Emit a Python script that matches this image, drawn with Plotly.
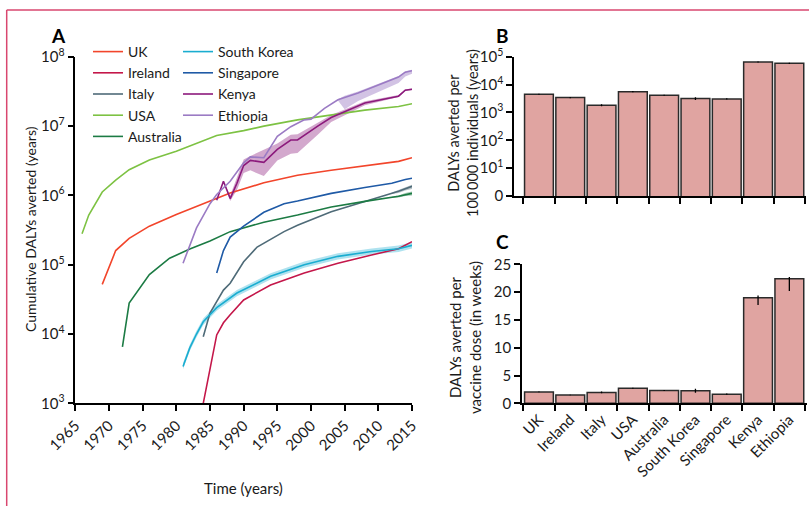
import plotly.graph_objects as go

FONT = "Lato"

# ---------------- Panel A data (cumulative DALYs averted) ----------------
uk_years = [1969, 1971, 1973, 1976, 1980, 1984, 1988, 1993, 1998, 2003, 2008, 2013, 2015]
uk_vals = [5.2e4, 1.6e5, 2.4e5, 3.6e5, 5.3e5, 7.6e5, 1.08e6, 1.52e6, 1.95e6, 2.3e6, 2.7e6, 3.1e6, 3.5e6]

ireland_years = [1984, 1986, 1987, 1988, 1990, 1991, 1994, 1999, 2004, 2009, 2013, 2015]
ireland_vals = [1.0e3, 9.7e3, 1.45e4, 1.9e4, 3.1e4, 3.5e4, 5.1e4, 7.6e4, 1.05e5, 1.38e5, 1.7e5, 2.15e5]

italy_years = [1984, 1985, 1987, 1988, 1990, 1992, 1996, 1998, 2003, 2008, 2013, 2015]
italy_vals = [9.1e3, 2.0e4, 4.3e4, 5.4e4, 1.1e5, 1.8e5, 3.0e5, 3.7e5, 5.8e5, 8.1e5, 1.15e6, 1.35e6]
italy_band_years = [2012, 2013, 2014, 2015]
italy_band_low = [1.05e6, 1.08e6, 1.18e6, 1.24e6]
italy_band_high = [1.1e6, 1.2e6, 1.33e6, 1.42e6]

usa_years = [1966, 1967, 1969, 1971, 1973, 1976, 1980, 1983, 1986, 1990, 1993, 1998, 2003, 2008, 2013, 2015]
usa_vals = [2.8e5, 5.2e5, 1.12e6, 1.66e6, 2.35e6, 3.25e6, 4.35e6, 5.7e6, 7.3e6, 8.6e6, 1.0e7, 1.23e7, 1.45e7, 1.7e7, 1.92e7, 2.1e7]

australia_years = [1972, 1973, 1976, 1979, 1982, 1985, 1988, 1993, 1998, 2003, 2008, 2013, 2015]
australia_vals = [6.5e3, 2.8e4, 7.2e4, 1.24e5, 1.68e5, 2.2e5, 3.0e5, 4.1e5, 5.2e5, 6.8e5, 8.2e5, 9.7e5, 1.07e6]
australia_band_years = [2012, 2013, 2014, 2015]
australia_band_low = [9.2e5, 9.3e5, 9.8e5, 1.0e6]
australia_band_high = [9.6e5, 1.0e6, 1.08e6, 1.14e6]

skorea_years = [1981, 1982, 1983, 1984, 1986, 1989, 1994, 1999, 2004, 2009, 2013, 2015]
skorea_vals = [3.4e3, 6.3e3, 1.0e4, 1.5e4, 2.4e4, 3.9e4, 6.8e4, 1.0e5, 1.32e5, 1.55e5, 1.7e5, 1.9e5]
skorea_low = [3.1e3, 5.7e3, 9.0e3, 1.35e4, 2.16e4, 3.5e4, 6.1e4, 9.0e4, 1.19e5, 1.4e5, 1.53e5, 1.71e5]
skorea_high = [3.8e3, 7.0e3, 1.11e4, 1.67e4, 2.66e4, 4.3e4, 7.5e4, 1.11e5, 1.46e5, 1.72e5, 1.89e5, 2.1e5]

singapore_years = [1986, 1987, 1988, 1990, 1993, 1996, 1998, 2003, 2008, 2012, 2014, 2015]
singapore_vals = [7.6e4, 1.6e5, 2.5e5, 3.6e5, 5.7e5, 7.6e5, 8.3e5, 1.07e6, 1.3e6, 1.5e6, 1.7e6, 1.77e6]

kenya_years = [1986, 1987, 1988, 1989, 1990, 1991, 1993, 1995, 1997, 1998, 2001, 2003, 2008, 2013, 2014, 2015]
kenya_vals = [8.5e5, 1.6e6, 9.0e5, 1.5e6, 2.7e6, 3.2e6, 3.0e6, 4.6e6, 6.3e6, 6.3e6, 1.0e7, 1.33e7, 2.15e7, 2.7e7, 3.3e7, 3.4e7]
kenya_low = [8.5e5, 1.6e6, 8.3e5, 1.2e6, 2.1e6, 2.3e6, 1.9e6, 3.2e6, 4.0e6, 4.1e6, 7.5e6, 1.15e7, 2.0e7, 2.62e7, 3.2e7, 3.3e7]
kenya_high = [8.5e5, 1.6e6, 1.0e6, 1.8e6, 3.3e6, 3.7e6, 4.5e6, 5.6e6, 7.5e6, 7.6e6, 1.12e7, 1.45e7, 2.28e7, 2.8e7, 3.4e7, 3.5e7]

ethiopia_years = [1981, 1983, 1985, 1986, 1988, 1990, 1991, 1993, 1995, 1997, 1999, 2000, 2002, 2004, 2007, 2010, 2013, 2014, 2015]
ethiopia_vals = [1.05e5, 3.4e5, 7.6e5, 1.03e6, 1.6e6, 2.95e6, 3.6e6, 3.5e6, 7.1e6, 9.8e6, 1.23e7, 1.26e7, 1.8e7, 2.4e7, 3.0e7, 3.9e7, 5.1e7, 6.0e7, 6.3e7]
ethiopia_band_years = [2004, 2005, 2007, 2010, 2013, 2014, 2015]
ethiopia_band_low = [2.35e7, 1.75e7, 2.3e7, 3.1e7, 4.2e7, 5.2e7, 5.7e7]
ethiopia_band_high = [2.45e7, 2.75e7, 3.15e7, 4.05e7, 5.3e7, 6.2e7, 6.5e7]

# ---------------- Panels B and C ----------------
countries = ["UK", "Ireland", "Italy", "USA", "Australia", "South Korea", "Singapore", "Kenya", "Ethiopia"]
per_100k = [4500, 3400, 1810, 5570, 4130, 3130, 3050, 64600, 58000]
per_100k_err = [200, 150, 150, 250, 200, 350, 150, 3000, 3000]
per_dose = [2.05, 1.5, 1.95, 2.7, 2.3, 2.25, 1.65, 19.0, 22.4]
per_dose_err_plus = [0.05, 0.05, 0.15, 0.1, 0.1, 0.35, 0.1, 0.4, 0.3]
per_dose_err_minus = [0.05, 0.05, 0.15, 0.1, 0.1, 0.35, 0.1, 1.3, 2.2]

colors = {
    "UK": "#F2452B", "Ireland": "#C4174A", "Italy": "#4F6B78", "USA": "#7DC243",
    "Australia": "#1C7B44", "South Korea": "#1AADD0", "Singapore": "#1F5AA6",
    "Kenya": "#8C1A7C", "Ethiopia": "#9B7BC4",
}

fig = go.Figure()


def band(years, low, high, fillcolor):
    fig.add_trace(go.Scatter(
        x=list(years) + list(years)[::-1], y=list(high) + list(low)[::-1],
        fill="toself", fillcolor=fillcolor, line=dict(width=0), mode="lines",
        showlegend=False, hoverinfo="skip", xaxis="x", yaxis="y"))


band(skorea_years, skorea_low, skorea_high, "rgba(26,173,208,0.35)")
band(kenya_years, kenya_low, kenya_high, "rgba(140,26,124,0.38)")
band(ethiopia_band_years, ethiopia_band_low, ethiopia_band_high, "rgba(155,123,196,0.45)")
band(italy_band_years, italy_band_low, italy_band_high, "rgba(79,107,120,0.4)")
band(australia_band_years, australia_band_low, australia_band_high, "rgba(28,123,68,0.4)")

series = [
    ("UK", uk_years, uk_vals, "legend"),
    ("Ireland", ireland_years, ireland_vals, "legend"),
    ("Italy", italy_years, italy_vals, "legend"),
    ("USA", usa_years, usa_vals, "legend"),
    ("Australia", australia_years, australia_vals, "legend"),
    ("South Korea", skorea_years, skorea_vals, "legend2"),
    ("Singapore", singapore_years, singapore_vals, "legend2"),
    ("Kenya", kenya_years, kenya_vals, "legend2"),
    ("Ethiopia", ethiopia_years, ethiopia_vals, "legend2"),
]
for name, xs, ys, lg in series:
    fig.add_trace(go.Scatter(x=xs, y=ys, mode="lines", name=name,
                             line=dict(color=colors[name], width=1.6),
                             legend=lg, xaxis="x", yaxis="y"))

bar_fill = "#E0A4A1"
bar_line = "#2a2a2a"
fig.add_trace(go.Bar(x=countries, y=per_100k, xaxis="x2", yaxis="y2", showlegend=False,
                     marker=dict(color=bar_fill, line=dict(color=bar_line, width=1.5)),
                     error_y=dict(type="data", array=per_100k_err, color="black", thickness=1.3, width=0)))
fig.add_trace(go.Bar(x=countries, y=per_dose, xaxis="x3", yaxis="y3", showlegend=False,
                     marker=dict(color=bar_fill, line=dict(color=bar_line, width=1.5)),
                     error_y=dict(type="data", array=per_dose_err_plus, arrayminus=per_dose_err_minus,
                                  color="black", thickness=1.3, width=0)))

W, H = 809, 506


def px_x(p):
    return p / W


def px_y(p):
    return 1 - p / H


axis_common = dict(showline=True, linecolor="black", linewidth=1.5, ticks="outside",
                   tickcolor="black", tickwidth=1.5, ticklen=6, showgrid=False, zeroline=False,
                   automargin=False, tickfont=dict(family=FONT, size=15, color="#1a1a1a"))

dec_years = [1965, 1970, 1975, 1980, 1985, 1990, 1995, 2000, 2005, 2010, 2015]
fig.update_layout(
    width=W, height=H, margin=dict(l=0, r=0, t=0, b=0, pad=0, autoexpand=False),
    paper_bgcolor="white", plot_bgcolor="white", bargap=0.08,
    font=dict(family=FONT, color="#1a1a1a"),
    xaxis=dict(domain=[px_x(75.3), px_x(412)], range=[1965, 2015], tickvals=dec_years,
               tickangle=-45, anchor="y", **axis_common),
    yaxis=dict(domain=[px_y(403.3), px_y(56.8)], type="log", range=[3, 8],
               tickvals=[1e3, 1e4, 1e5, 1e6, 1e7, 1e8],
               ticktext=["10<sup>%d</sup>" % k for k in range(3, 9)], anchor="x",
               **axis_common),
    xaxis2=dict(domain=[px_x(514), px_x(806)], range=[-0.797, 8.532], type="category",
                tickson="boundaries", showticklabels=False, anchor="y2", **axis_common),
    yaxis2=dict(domain=[px_y(196), px_y(56.7)], type="log", range=[0, 5],
                tickvals=[1, 10, 100, 1e3, 1e4, 1e5],
                ticktext=["0"] + ["10<sup>%d</sup>" % k for k in range(1, 6)], anchor="x2",
                **axis_common),
    xaxis3=dict(domain=[px_x(522), px_x(806.5)], range=[-0.542, 8.548], type="category",
                tickson="boundaries", tickangle=-45, anchor="y3", **axis_common),
    yaxis3=dict(domain=[px_y(403.3), px_y(264.3)], range=[0, 25], tickvals=[0, 5, 10, 15, 20, 25],
                anchor="x3", **axis_common),
    legend=dict(x=px_x(88), y=px_y(36), xanchor="left", yanchor="top", bgcolor="rgba(0,0,0,0)",
                font=dict(family=FONT, size=14), tracegroupgap=0, itemwidth=30),
    legend2=dict(x=px_x(178), y=px_y(36), xanchor="left", yanchor="top", bgcolor="rgba(0,0,0,0)",
                 font=dict(family=FONT, size=14), tracegroupgap=0, itemwidth=30),
)

for label, x, y in [("A", 58, 35), ("B", 503, 35), ("C", 503, 241)]:
    fig.add_annotation(text="<b>%s</b>" % label, x=px_x(x), y=px_y(y), xref="paper", yref="paper",
                       xanchor="center", yanchor="middle",
                       showarrow=False, font=dict(family=FONT, size=19, color="black"))

# axis titles
titles = [
    ("Time (years)", 243, 488, 0, 15),
    ("Cumulative DALYs averted (years)", 30, 229, -90, 14),
    ("DALYs averted per<br>100\u2009000 individuals (years)", 463, 133, -90, 14.5),
    ("DALYs averted per<br>vaccine dose (in weeks)", 465, 338, -90, 15),
]
for text, x, y, ang, size in titles:
    fig.add_annotation(text=text, x=px_x(x), y=px_y(y), xref="paper", yref="paper",
                       xanchor="center", yanchor="middle",
                       showarrow=False, textangle=ang,
                       font=dict(family=FONT, size=size, color="#1a1a1a"))

border = "#D9476F"
fig.add_shape(type="line", xref="paper", yref="paper", x0=px_x(6.7), x1=px_x(6.7), y0=0, y1=px_y(10),
              line=dict(color=border, width=1.5))
fig.add_shape(type="line", xref="paper", yref="paper", x0=px_x(6.7), x1=1, y0=px_y(10), y1=px_y(10),
              line=dict(color=border, width=1.5))

fig.write_html("out.html")
